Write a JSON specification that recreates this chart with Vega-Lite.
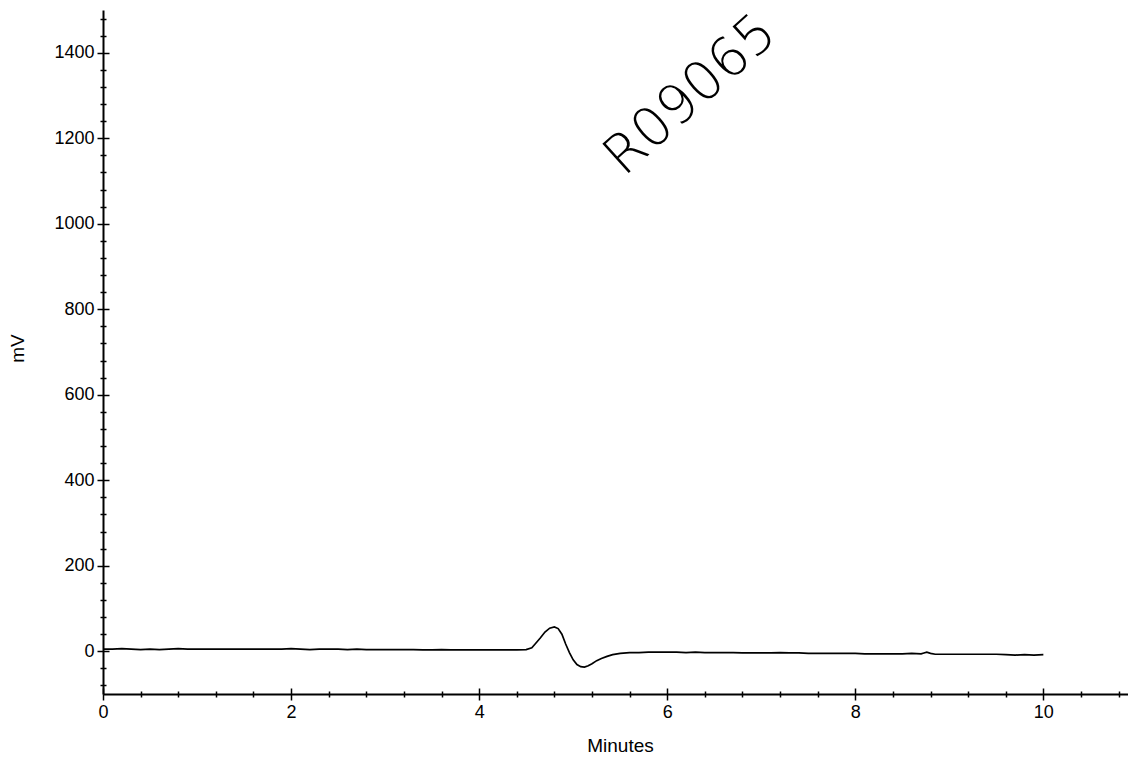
{
  "$schema": "https://vega.github.io/schema/vega-lite/v6.json",
  "width": 1025,
  "height": 684,
  "autosize": {"type": "none"},
  "padding": {"left": 103, "top": 10, "right": 0, "bottom": 64},
  "background": "white",
  "config": {"view": {"stroke": null}, "font": "Liberation Sans"},
  "datasets": {
    "trace": [
      {"min": 0.0, "mv": 5}, {"min": 0.1, "mv": 5}, {"min": 0.2, "mv": 6}, {"min": 0.3, "mv": 5}, {"min": 0.4, "mv": 4},
      {"min": 0.5, "mv": 5}, {"min": 0.6, "mv": 4}, {"min": 0.7, "mv": 5}, {"min": 0.8, "mv": 6}, {"min": 0.9, "mv": 5},
      {"min": 1.0, "mv": 5}, {"min": 1.1, "mv": 5}, {"min": 1.2, "mv": 5}, {"min": 1.3, "mv": 5}, {"min": 1.4, "mv": 5},
      {"min": 1.5, "mv": 5}, {"min": 1.6, "mv": 5}, {"min": 1.7, "mv": 5}, {"min": 1.8, "mv": 5}, {"min": 1.9, "mv": 5},
      {"min": 2.0, "mv": 6}, {"min": 2.1, "mv": 5}, {"min": 2.2, "mv": 4}, {"min": 2.3, "mv": 5}, {"min": 2.4, "mv": 5},
      {"min": 2.5, "mv": 5}, {"min": 2.6, "mv": 4}, {"min": 2.7, "mv": 5}, {"min": 2.8, "mv": 4}, {"min": 2.9, "mv": 4},
      {"min": 3.0, "mv": 4}, {"min": 3.1, "mv": 4}, {"min": 3.2, "mv": 4}, {"min": 3.3, "mv": 4}, {"min": 3.4, "mv": 3},
      {"min": 3.5, "mv": 3}, {"min": 3.6, "mv": 4}, {"min": 3.7, "mv": 3}, {"min": 3.8, "mv": 3}, {"min": 3.9, "mv": 3},
      {"min": 4.0, "mv": 3}, {"min": 4.1, "mv": 3}, {"min": 4.2, "mv": 3}, {"min": 4.3, "mv": 3}, {"min": 4.4, "mv": 3},
      {"min": 4.5, "mv": 4}, {"min": 4.56, "mv": 8}, {"min": 4.6, "mv": 18}, {"min": 4.65, "mv": 31}, {"min": 4.7, "mv": 45},
      {"min": 4.75, "mv": 54}, {"min": 4.8, "mv": 57}, {"min": 4.84, "mv": 53}, {"min": 4.88, "mv": 40}, {"min": 4.92, "mv": 17},
      {"min": 4.96, "mv": -3}, {"min": 5.0, "mv": -20}, {"min": 5.04, "mv": -31}, {"min": 5.08, "mv": -36}, {"min": 5.12, "mv": -37},
      {"min": 5.16, "mv": -34}, {"min": 5.2, "mv": -29}, {"min": 5.25, "mv": -22}, {"min": 5.3, "mv": -17}, {"min": 5.36, "mv": -12},
      {"min": 5.42, "mv": -8}, {"min": 5.5, "mv": -5}, {"min": 5.6, "mv": -3}, {"min": 5.7, "mv": -3}, {"min": 5.8, "mv": -2},
      {"min": 5.9, "mv": -2}, {"min": 6.0, "mv": -2}, {"min": 6.1, "mv": -2}, {"min": 6.2, "mv": -3}, {"min": 6.3, "mv": -2},
      {"min": 6.4, "mv": -3}, {"min": 6.5, "mv": -3}, {"min": 6.6, "mv": -3}, {"min": 6.7, "mv": -3}, {"min": 6.8, "mv": -4},
      {"min": 6.9, "mv": -4}, {"min": 7.0, "mv": -4}, {"min": 7.1, "mv": -4}, {"min": 7.2, "mv": -3}, {"min": 7.3, "mv": -4},
      {"min": 7.4, "mv": -4}, {"min": 7.5, "mv": -5}, {"min": 7.6, "mv": -5}, {"min": 7.7, "mv": -5}, {"min": 7.8, "mv": -5},
      {"min": 7.9, "mv": -5}, {"min": 8.0, "mv": -5}, {"min": 8.1, "mv": -6}, {"min": 8.2, "mv": -6}, {"min": 8.3, "mv": -6},
      {"min": 8.4, "mv": -6}, {"min": 8.5, "mv": -6}, {"min": 8.6, "mv": -5}, {"min": 8.7, "mv": -6}, {"min": 8.73, "mv": -4},
      {"min": 8.76, "mv": -2}, {"min": 8.8, "mv": -5}, {"min": 8.85, "mv": -7}, {"min": 8.9, "mv": -7}, {"min": 9.0, "mv": -7},
      {"min": 9.1, "mv": -7}, {"min": 9.2, "mv": -7}, {"min": 9.3, "mv": -7}, {"min": 9.4, "mv": -7}, {"min": 9.5, "mv": -7},
      {"min": 9.6, "mv": -8}, {"min": 9.7, "mv": -9}, {"min": 9.8, "mv": -8}, {"min": 9.9, "mv": -9}, {"min": 10.0, "mv": -8}
    ],
    "note": [{"min": 6.25, "mv": 1300, "text": "R09065"}]
  },
  "layer": [
    {
      "data": {"name": "trace"},
      "mark": {"type": "line", "color": "black", "strokeWidth": 1.7, "clip": true},
      "encoding": {
        "x": {
          "field": "min", "type": "quantitative",
          "scale": {"domain": [0, 10.9], "nice": false, "zero": false},
          "axis": {
            "orient": "bottom", "title": "Minutes", "grid": false,
            "values": [0, 0.4, 0.8, 1.2, 1.6, 2, 2.4, 2.8, 3.2, 3.6, 4, 4.4, 4.8, 5.2, 5.6, 6, 6.4, 6.8, 7.2, 7.6, 8, 8.4, 8.8, 9.2, 9.6, 10, 10.4, 10.8],
            "labelExpr": "abs(datum.value/2 - round(datum.value/2)) < 0.001 ? format(datum.value, 'd') : ''",
            "labelOverlap": false, "labelBound": false, "labelFlush": false,
            "labelFontSize": 18, "labelColor": "black", "labelPadding": 3,
            "tickColor": "black",
            "tickSize": {"condition": {"test": "abs(datum.value/2 - round(datum.value/2)) < 0.001", "value": 6}, "value": 3},
            "tickWidth": 1.5,
            "domainColor": "black", "domainWidth": 2,
            "titleFontSize": 19, "titleFontWeight": "normal", "titleColor": "black",
            "titleX": 517, "titleY": 51, "titleBaseline": "middle", "titleAlign": "center"
          }
        },
        "y": {
          "field": "mv", "type": "quantitative",
          "scale": {"domain": [-100, 1500], "nice": false, "zero": false},
          "axis": {
            "orient": "left", "title": "mV", "grid": false,
            "values": [-80, -40, 0, 40, 80, 120, 160, 200, 240, 280, 320, 360, 400, 440, 480, 520, 560, 600, 640, 680, 720, 760, 800, 840, 880, 920, 960, 1000, 1040, 1080, 1120, 1160, 1200, 1240, 1280, 1320, 1360, 1400, 1440, 1480],
            "labelExpr": "datum.value % 200 === 0 ? format(datum.value, 'd') : ''",
            "labelOverlap": false, "labelBound": false, "labelFlush": false,
            "labelFontSize": 18, "labelColor": "black", "labelPadding": 3,
            "tickColor": "black",
            "tickSize": {"condition": {"test": "datum.value % 200 === 0", "value": 6}, "value": 3},
            "tickWidth": 1.5,
            "domainColor": "black", "domainWidth": 2,
            "titleFontSize": 19, "titleFontWeight": "normal", "titleColor": "black",
            "titleAngle": -90, "titleX": -86, "titleY": 338, "titleBaseline": "middle", "titleAlign": "center"
          }
        }
      }
    },
    {
      "data": {"name": "trace"},
      "mark": {"type": "line", "strokeOpacity": 0},
      "encoding": {
        "x": {
          "field": "min", "type": "quantitative",
          "scale": {"domain": [0, 10.9], "nice": false, "zero": false},
          "axis": {
            "orient": "top", "offset": -684, "title": null, "grid": false, "domain": false, "labels": false,
            "values": [0, 0.4, 0.8, 1.2, 1.6, 2, 2.4, 2.8, 3.2, 3.6, 4, 4.4, 4.8, 5.2, 5.6, 6, 6.4, 6.8, 7.2, 7.6, 8, 8.4, 8.8, 9.2, 9.6, 10, 10.4, 10.8],
            "tickColor": "black",
            "tickSize": {"condition": {"test": "abs(datum.value/2 - round(datum.value/2)) < 0.001", "value": 6}, "value": 3},
            "tickWidth": 1.5
          }
        },
        "y": {
          "field": "mv", "type": "quantitative",
          "scale": {"domain": [-100, 1500], "nice": false, "zero": false},
          "axis": {
            "orient": "right", "offset": -1025, "title": null, "grid": false, "domain": false, "labels": false,
            "values": [-80, -40, 0, 40, 80, 120, 160, 200, 240, 280, 320, 360, 400, 440, 480, 520, 560, 600, 640, 680, 720, 760, 800, 840, 880, 920, 960, 1000, 1040, 1080, 1120, 1160, 1200, 1240, 1280, 1320, 1360, 1400, 1440, 1480],
            "tickColor": "black",
            "tickSize": {"condition": {"test": "datum.value % 200 === 0", "value": 6}, "value": 3},
            "tickWidth": 1.5
          }
        }
      }
    },
    {
      "data": {"name": "note"},
      "mark": {"type": "text", "angle": -42, "fontSize": 54, "font": "DejaVu Sans", "fontWeight": 200, "color": "black", "align": "center", "baseline": "middle"},
      "encoding": {
        "x": {"field": "min", "type": "quantitative", "axis": null},
        "y": {"field": "mv", "type": "quantitative", "axis": null},
        "text": {"field": "text"}
      }
    }
  ],
  "resolve": {"axis": {"x": "independent", "y": "independent"}}
}
